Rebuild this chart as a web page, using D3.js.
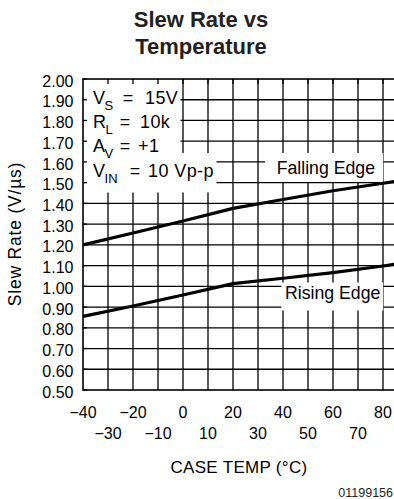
<!DOCTYPE html>
<html>
<head>
<meta charset="utf-8">
<script src="https://cdn.jsdelivr.net/npm/d3@7"></script>
<style>
  html, body { margin: 0; padding: 0; background: #fff; }
  svg { display: block; }
  text { font-family: "Liberation Sans", Arial, Helvetica, sans-serif; }
</style>
</head>
<body>
<svg id="chart" width="394" height="499"></svg>
<script>
// ---- data ----
const temps = [-40, -20, 0, 20, 40, 60, 80, 85];
const fallingEdge = [1.200, 1.257, 1.315, 1.376, 1.419, 1.461, 1.497, 1.506];
const risingEdge = [0.855, 0.905, 0.958, 1.013, 1.039, 1.066, 1.098, 1.107];
const yTickValues = [0.5, 0.6, 0.7, 0.8, 0.9, 1.0, 1.1, 1.2, 1.3, 1.4, 1.5, 1.6, 1.7, 1.8, 1.9, 2.0];
const xTicksRow1 = [-40, -20, 0, 20, 40, 60, 80];
const xTicksRow2 = [-30, -10, 10, 30, 50, 70];
const xGrid = [-30, -20, -10, 0, 10, 20, 30, 40, 50, 60, 70, 80];
const titleLines = ["Slew Rate vs", "Temperature"];
const annoMain = ["V", "R", "A", "V"];
const annoSub = ["S", "L", "V", "IN"];
const annoValue = ["15V", "10k", "+1", "10 Vp-p"];
const seriesLabels = ["Falling Edge", "Rising Edge"];
const xTitle = "CASE TEMP (°C)";
const yTitle = "Slew Rate (V/µs)";
const figId = "01199156";

// ---- layout ----
const L = 83, T = 79, B = 390, R = 395.5;
const svg = d3.select("#chart");
const x = d3.scaleLinear().domain([-40, 85]).range([L, R]);
const y = d3.scaleLinear().domain([0.5, 2.0]).range([B, T]);

// title
svg.selectAll("text.title").data(titleLines).join("text")
  .attr("class", "title")
  .attr("x", 201).attr("y", (d, i) => 27.3 + i * 27)
  .attr("text-anchor", "middle")
  .attr("font-size", 22).attr("font-weight", "bold").attr("fill", "#231f20")
  .text(d => d);

// grid
const g = svg.append("g");
g.selectAll("line.hg").data(yTickValues.slice(1, -1)).join("line")
  .attr("x1", L).attr("x2", R).attr("y1", d => y(d)).attr("y2", d => y(d))
  .attr("stroke", "#000").attr("stroke-width", 1.3);
g.selectAll("line.vg").data(xGrid).join("line")
  .attr("x1", d => x(d)).attr("x2", d => x(d)).attr("y1", T).attr("y2", B)
  .attr("stroke", "#000").attr("stroke-width", 1.3);

// white label masks
const masks = [
  [L, T, 180.5, 153],
  [L, 153, 216.5, 192.5],
  [265, 153, 383.2, 182],
  [281.3, 282.5, 383.2, 310.5]
];
g.selectAll("rect.mask").data(masks).join("rect")
  .attr("x", d => d[0]).attr("y", d => d[1])
  .attr("width", d => d[2] - d[0]).attr("height", d => d[3] - d[1])
  .attr("fill", "#fff");

// inward border ticks
g.selectAll("line.lt").data(yTickValues).join("line")
  .attr("x1", L).attr("x2", L + 4).attr("y1", d => y(d)).attr("y2", d => y(d))
  .attr("stroke", "#000").attr("stroke-width", 1.3);
g.selectAll("line.tt").data(xGrid).join("line")
  .attr("x1", d => x(d)).attr("x2", d => x(d)).attr("y1", T).attr("y2", T + 5)
  .attr("stroke", "#000").attr("stroke-width", 1.3);

// border
g.append("rect").attr("x", L).attr("y", T).attr("width", R - L).attr("height", B - T)
  .attr("fill", "none").attr("stroke", "#000").attr("stroke-width", 1.6);

// data lines
const line = d3.line().x((d, i) => x(temps[i])).y(d => y(d));
[fallingEdge, risingEdge].forEach(s => {
  svg.append("path").attr("d", line(s))
    .attr("fill", "none").attr("stroke", "#000").attr("stroke-width", 3.2)
    .attr("stroke-linejoin", "round");
});

// y tick labels
svg.selectAll("text.yt").data(yTickValues).join("text")
  .attr("x", 73.5).attr("y", d => y(d) + 7.6)
  .attr("text-anchor", "end").attr("font-size", 16).attr("fill", "#000")
  .text(d => d3.format(".2f")(d));

// x tick labels
const fmtX = d => (d < 0 ? "\u2212" + Math.abs(d) : String(d));
svg.selectAll("text.xt1").data(xTicksRow1).join("text")
  .attr("x", d => x(d)).attr("y", 418.3)
  .attr("text-anchor", "middle").attr("font-size", 16).attr("fill", "#000")
  .text(fmtX);
svg.selectAll("text.xt2").data(xTicksRow2).join("text")
  .attr("x", d => x(d)).attr("y", 439.3)
  .attr("text-anchor", "middle").attr("font-size", 16).attr("fill", "#000")
  .text(fmtX);

// axis titles
svg.append("text").attr("x", 239).attr("y", 473)
  .attr("text-anchor", "middle").attr("font-size", 17).attr("fill", "#000")
  .attr("letter-spacing", 0.3)
  .text(xTitle);
svg.append("text")
  .attr("transform", "translate(20.5,234) rotate(-90)")
  .attr("text-anchor", "middle").attr("font-size", 17.5).attr("fill", "#000")
  .attr("letter-spacing", 0.8)
  .text(yTitle);

// annotations
const annoBase = [103.5, 128, 152, 176.5];
const annoEqX = [128, 125, 125, 135];
const annoValX = [145, 140, 138, 148];
annoMain.forEach((m, i) => {
  const t = svg.append("text").attr("x", 93).attr("y", annoBase[i])
    .attr("font-size", 18).attr("fill", "#000");
  t.append("tspan").text(m);
  t.append("tspan").attr("font-size", 13).attr("dy", 6).attr("dx", -0.5).text(annoSub[i]);
  svg.append("text").attr("x", annoEqX[i]).attr("y", annoBase[i])
    .attr("text-anchor", "middle").attr("font-size", 18).attr("fill", "#000").text("=");
  svg.append("text").attr("x", annoValX[i]).attr("y", annoBase[i])
    .attr("font-size", 18).attr("fill", "#000").attr("letter-spacing", 0.4)
    .style("white-space", "pre").text(annoValue[i]);
});

// series labels
svg.append("text").attr("x", 276.7).attr("y", 174.3)
  .attr("font-size", 17.7).attr("fill", "#000").text(seriesLabels[0]);
svg.append("text").attr("x", 285).attr("y", 299.3)
  .attr("font-size", 17.7).attr("fill", "#000").text(seriesLabels[1]);

// figure id
svg.append("text").attr("x", 393).attr("y", 497)
  .attr("text-anchor", "end").attr("font-size", 12.5).attr("fill", "#231f20")
  .text(figId);
</script>
</body>
</html>
